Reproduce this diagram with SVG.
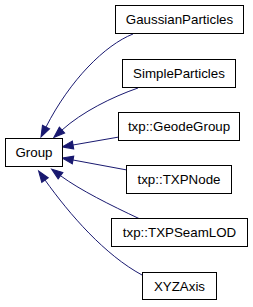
<svg xmlns="http://www.w3.org/2000/svg" width="253" height="307" viewBox="0 0 253 307">
<style>
.box{fill:#fff;stroke:#000;stroke-width:1}
.lbl{font-family:"Liberation Sans",Arial,sans-serif;font-size:13.33px;text-anchor:middle;fill:#000}
.edge{fill:none;stroke:#191970;stroke-width:1;marker-end:url(#arr)}
</style>
<defs>
<marker id="arr" markerUnits="userSpaceOnUse" markerWidth="12" markerHeight="10" viewBox="0 -4 11 8" refX="0" refY="0" orient="auto" overflow="visible">
<path d="M0,-3.6 L10,0 L0,3.6 Z" fill="#191970" stroke="#191970" stroke-width="1"/>
</marker>
</defs>
<rect width="253" height="307" fill="#fff"/>
<g id="connectors">
<path class="edge" d="M133,34 C105,45 70,80 46,127"/>
<path class="edge" d="M138,88 C112,97 82,112 62,130"/>
<path class="edge" d="M119,137 L73,145"/>
<path class="edge" d="M127,170 L73,160"/>
<path class="edge" d="M140,219 C110,205 80,190 60.5,175.7"/>
<path class="edge" d="M142,275 C105,255 70,215 45,180"/>
</g>
<g id="Group"><rect class="box" x="5.5" y="138.5" width="57" height="28"/><text class="lbl" x="34" y="157">Group</text></g>
<g id="GaussianParticles"><rect class="box" x="115.5" y="5.5" width="128" height="28"/><text class="lbl" x="179.5" y="24">GaussianParticles</text></g>
<g id="SimpleParticles"><rect class="box" x="122.5" y="59.5" width="113" height="28"/><text class="lbl" x="179" y="78">SimpleParticles</text></g>
<g id="GeodeGroup"><rect class="box" x="118.5" y="112.5" width="121" height="28"/><text class="lbl" x="179" y="131">txp::GeodeGroup</text></g>
<g id="TXPNode"><rect class="box" x="126.5" y="165.5" width="105" height="28"/><text class="lbl" x="179" y="184">txp::TXPNode</text></g>
<g id="TXPSeamLOD"><rect class="box" x="111.5" y="218.5" width="136" height="28"/><text class="lbl" x="179.5" y="237">txp::TXPSeamLOD</text></g>
<g id="XYZAxis"><rect class="box" x="142.5" y="272.5" width="74" height="27"/><text class="lbl" x="179.5" y="290.5">XYZAxis</text></g>
</svg>
